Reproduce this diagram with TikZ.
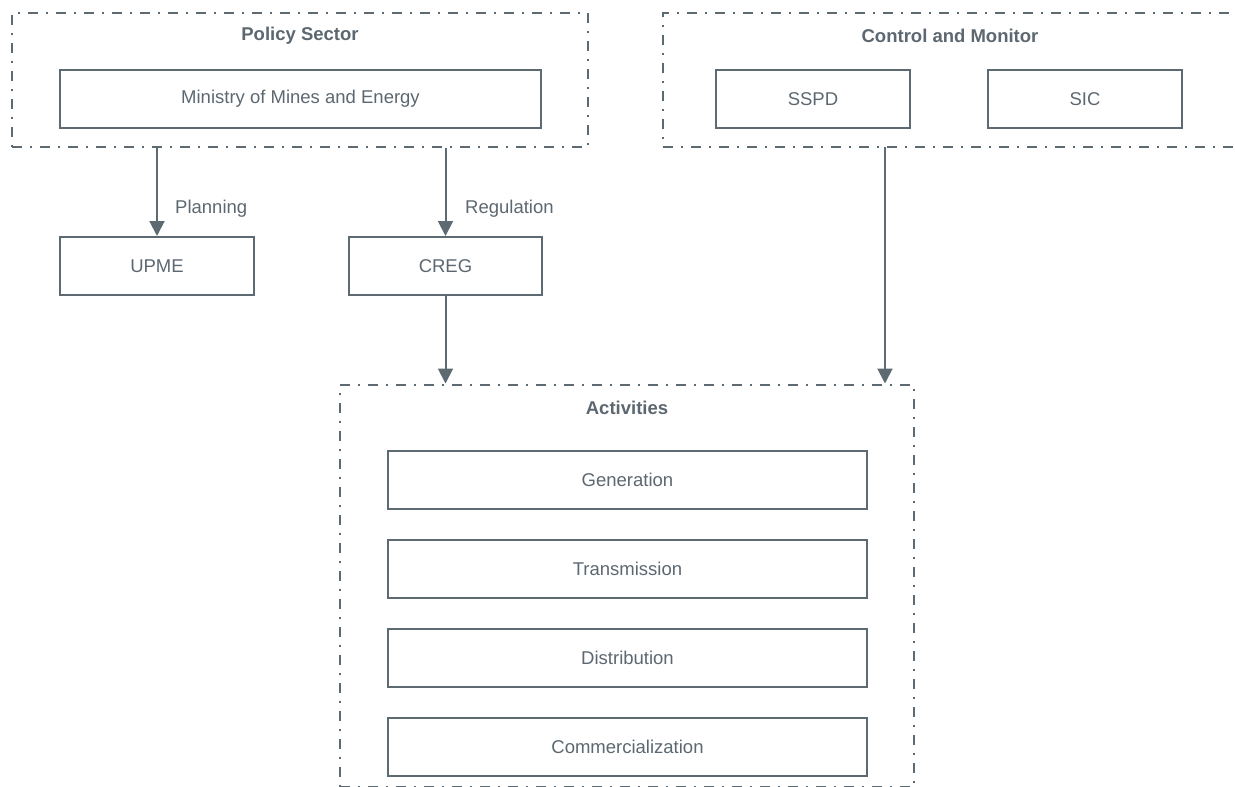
\documentclass[tikz,border=0pt]{standalone}
\usepackage{fontspec}
\setmainfont{Liberation Sans}
\usetikzlibrary{arrows.meta}
\definecolor{ink}{HTML}{5E6A72}
\definecolor{txt}{HTML}{5C6770}
\begin{document}
\begin{tikzpicture}[x=1pt,y=-1pt,
  every node/.style={font=\fontsize{18.5}{22}\selectfont, text=txt},
  box/.style={draw=ink, line width=2pt, rectangle, minimum height=58pt, inner sep=0pt},
  group/.style={draw=ink, line width=2pt, rectangle, inner sep=0pt,
    dash pattern=on 10pt off 8pt on 2pt off 8pt},
  title/.style={font=\fontsize{18.5}{22}\selectfont\bfseries},
  arr/.style={draw=ink, line width=2pt, -{Triangle[width=15pt,length=15pt]}},
  lbl/.style={anchor=west, inner sep=0pt}]
\useasboundingbox (0,0) rectangle (1235,787);

% Policy sector group
\node[group, minimum width=576pt, minimum height=134pt] (policy) at (300,80) {};
\node[title] (policyt) at (300,36) {Policy Sector};
\node[box, minimum width=481pt] (mme) at (300.5,99) {Ministry of Mines and Energy};

% Control and monitor group (runs past the right edge)
\node[group, minimum width=580pt, minimum height=134pt] (ctrl) at (953,80) {};
\node[title] (ctrlt) at (950,36) {Control and Monitor};
\node[box, minimum width=194pt] (sspd) at (813,99) {SSPD};
\node[box, minimum width=194pt] (sic) at (1085,99) {SIC};

% Agencies
\node[box, minimum width=194pt] (upme) at (157,266) {UPME};
\node[box, minimum width=193pt] (creg) at (445.5,266) {CREG};

% Activities group
\node[group, minimum width=574pt, minimum height=402pt] (act) at (627,585.5) {};
\node[title] (actt) at (627,408) {Activities};
\node[box, minimum width=479pt] (gen) at (627.5,480) {Generation};
\node[box, minimum width=479pt] (tra) at (627.5,569) {Transmission};
\node[box, minimum width=479pt] (dis) at (627.5,658) {Distribution};
\node[box, minimum width=479pt] (com) at (627.5,747) {Commercialization};

% Connectors
\coordinate (cm) at (885,147);
\draw[arr] (policy.south -| upme.north) -- (upme.north);
\draw[arr] (policy.south -| creg.north) -- (creg.north);
\draw[arr] (creg.south) -- (creg.south |- act.north);
\draw[arr] (cm) -- (cm |- act.north);

\node[lbl] (plan) at (175,209) {Planning};
\node[lbl] (reg) at (465,209) {Regulation};
\end{tikzpicture}
\end{document}
